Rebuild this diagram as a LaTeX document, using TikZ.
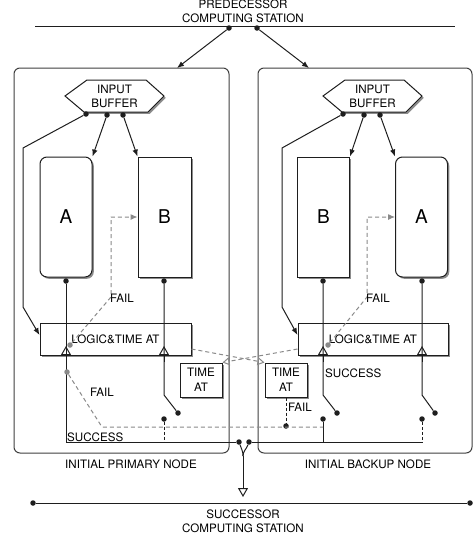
\documentclass[tikz,border=0pt]{standalone}
\usepackage{fontspec}
\setmainfont{TeX Gyre Heros}
\usetikzlibrary{arrows.meta,shadows,calc}
\definecolor{lnc}{HTML}{1E1E1E}
\definecolor{boxc}{HTML}{404040}
\definecolor{gdc}{HTML}{8A8A8A}
\begin{document}
\begin{tikzpicture}[x=1pt,y=-1pt,
  font=\fontsize{11.6}{14.5}\selectfont,
  every node/.style={text=black, inner sep=0pt},
  ln/.style={draw=lnc, line width=1pt},
  arr/.style={ln, -{Latex[length=7pt,width=5.5pt]}},
  dot/.style={circle, fill=lnc, minimum size=5.5pt, inner sep=0pt},
  gdot/.style={circle, fill=gdc, minimum size=5.5pt, inner sep=0pt},
  gdash/.style={draw=gdc, line width=1pt, dash pattern=on 4pt off 3pt},
  kdash/.style={draw=lnc, line width=1pt, dash pattern=on 3pt off 2pt},
  opentip/.style={-{Triangle[open, length=9pt, width=10pt]}},
  gopentip/.style={-{Triangle[open, length=7pt, width=8pt]}},
  gfilltip/.style={-{Latex[length=7pt, width=6pt]}},
  shad/.style={drop shadow={shadow xshift=1.8pt, shadow yshift=-1.8pt, opacity=0.45, fill=black}},
  outer/.style={draw=boxc, line width=1pt, rounded corners=6pt, minimum height=385pt},
  unitbox/.style={draw=lnc, line width=1pt, fill=white, shad, minimum width=52pt, minimum height=120pt, font=\fontsize{19}{20}\selectfont},
  unitround/.style={unitbox, rounded corners=7pt},
  logicbox/.style={draw=lnc, line width=1pt, fill=white, shad, minimum height=32pt},
  timebox/.style={draw=lnc, line width=1pt, fill=white, shad, minimum width=42pt, minimum height=34pt, align=center},
]
\fill[white] (0,0) rectangle (473,536);
\useasboundingbox (0,0) rectangle (473,536);

% outer nodes
\node[outer, minimum width=215pt] (prim) at (121.5,260.5) {};
\node[outer, minimum width=214pt] (back) at (365,260.5) {};
\node (primlab) at (131,464) {INITIAL PRIMARY NODE};
\node (backlab) at (368,464) {INITIAL BACKUP NODE};

% stations
\node[align=center] (pred) at (243,11.5) {PREDECESSOR\\COMPUTING STATION};
\node[align=center] (succ) at (243,521.5) {SUCCESSOR\\COMPUTING STATION};
\coordinate (tl) at (35,26);
\coordinate (tr) at (455,26);
\draw[ln] (tl) -- (tr);
\node[dot] (pd1) at (229,28) {};
\node[dot] (pd2) at (257,28) {};
\coordinate (primin) at (177,68);
\coordinate (backin) at (309,68);
\draw[arr] (pd1) -- (primin);
\draw[arr] (pd2) -- (backin);

\node[dot] (sd1) at (33,503) {};
\node[dot] (sd2) at (470,503) {};
\draw[ln] (sd1) -- (sd2);

% input buffers
\foreach \dx in {0,258}{
  \draw[ln, fill=white, shad, xshift=\dx pt] (65,96) -- (87,80) -- (146,80) -- (164,96) -- (148,112) -- (84,112) -- cycle;
}
\node[align=center] (bufL) at (114.5,96.5) {INPUT\\BUFFER};
\node[align=center] (bufR) at (372.5,96.5) {INPUT\\BUFFER};

% units
\node[unitround] (AL) at (66,217) {A};
\node[unitbox, minimum width=53pt] (BL) at (164.5,217) {B};
\node[unitbox] (BR) at (323.5,217) {B};
\node[unitround] (AR) at (421.5,217) {A};

% logic boxes
\node[logicbox, minimum width=151pt] (LL) at (115.5,339) {LOGIC\&TIME AT};
\node[logicbox, minimum width=150pt] (LR) at (373,339) {LOGIC\&TIME AT};

% time boxes
\node[timebox] (TL) at (201,380) {TIME\\AT};
\node[timebox] (TR) at (286,380) {TIME\\AT};

% dots
\node[dot] (bL1) at (86,114) {};
\node[dot] (bL2) at (107,115) {};
\node[dot] (bL3) at (123,115) {};
\node[dot] (bR1) at (343,114) {};
\node[dot] (bR2) at (364,115) {};
\node[dot] (bR3) at (380,115) {};

\node[dot] (aLo) at (66,281) {};
\node[dot] (bLo) at (164,281) {};
\node[dot] (bRo) at (323,281) {};
\node[dot] (aRo) at (422,281) {};

\node[dot] (sL1) at (178,413) {};
\node[dot] (sL2) at (164,419) {};
\node[dot] (sR1) at (337,413) {};
\node[dot] (sR2) at (323,419) {};
\node[dot] (sR3) at (435,413) {};
\node[dot] (sR4) at (422,419) {};
\node[dot] (fR) at (286,426) {};

\node[dot] (dM1) at (239,442) {};
\node[dot] (dM2) at (249,442) {};
\coordinate (mj) at (243,456);
\coordinate (mout) at (243,497);

% buffer connectors
\draw[arr] (bL1) -- (23,148) -- (23,307) -- ([yshift=4pt]LL.west);
\draw[arr] (bL2) -- (AL.north east);
\draw[arr] (bL3) -- (BL.north west);
\draw[arr] (bR1) -- (282,148) -- (282,307) -- ([yshift=4pt]LR.west);
\draw[arr] (bR2) -- (BR.north east);
\draw[arr] (bR3) -- (AR.north west);

% unit outputs
\draw[ln] (aLo) -- (66,442) -- (dM1);
\draw[ln] (bLo) -- (164,395) -- (sL1);
\draw[ln] (bRo) -- (323,395) -- (sR1);
\draw[ln] (aRo) -- (422,395) -- (sR3);
\foreach \xx in {66,164,323,422}{
  \draw[ln, opentip] (\xx,362) -- (\xx,346);
}
\draw[kdash] (sL2) -- (164,442);
\draw[ln] (sR2) -- (323,442);
\draw[kdash] (sR4) -- (422,442);
\draw[ln] (dM2) -- (422,442);

% merge to successor
\draw[ln] (dM1) to[out=-70, in=90] (mj);
\draw[ln] (dM2) to[out=-110, in=90] (mj);
\draw[ln, opentip] (mj) -- (mout);

% grey fail paths
\node[gdot] (gL1) at (70,345) {};
\node[gdot] (gR1) at (328,345) {};
\node[gdot] (gL2) at (67,372) {};
\draw[gdash, gfilltip] (gL1) -- (111,297) -- (111,217) -- (BL.west);
\draw[gdash, gfilltip] (gR1) -- (367,297) -- (367,217) -- (AR.west);
\node[anchor=west] (fail1) at (110,298) {FAIL};
\node[anchor=west] (fail2) at (366,298) {FAIL};
\draw[gdash] (gL2) -- (102,427) -- (sR2 |- 0,427);
\node (fail3) at (102,392) {FAIL};

% crossing dashed
\draw[gdash, gopentip] ([yshift=-10pt]LL.east) -- (TR.north west);
\draw[gdash, gopentip] ([yshift=-10pt]LR.west) -- (TL.north east);

% time fail
\draw[kdash] (TR.south) -- (fR);
\node[anchor=west] (fail4) at (288,407) {FAIL};

% success labels
\node[anchor=west] (succL) at (67,437) {SUCCESS};
\node[anchor=west] (succR) at (325,373) {SUCCESS};
\end{tikzpicture}
\end{document}
